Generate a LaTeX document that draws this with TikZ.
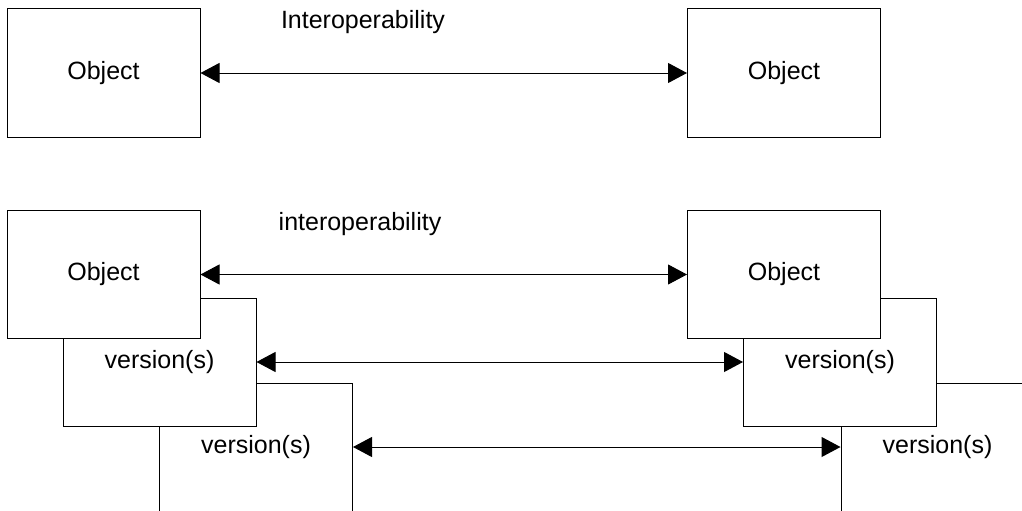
\documentclass[tikz,border=0pt]{standalone}
\usepackage{fontspec}
\setmainfont{Liberation Sans}
\usetikzlibrary{arrows.meta}
\begin{document}
\begin{tikzpicture}[x=1pt,y=-1pt,
  box/.style={draw=black,line width=1pt,fill=white,minimum width=193pt,minimum height=128pt,inner sep=0pt,font=\fontsize{25}{30}\selectfont},
  lbl/.style={inner sep=0pt,font=\fontsize{25}{30}\selectfont},
  link/.style={line width=1pt,{Triangle[length=19pt,width=20pt]}-{Triangle[length=19pt,width=20pt]}}]
\useasboundingbox (0,0) rectangle (1022,511);
\clip (0,0) rectangle (1022,511);
% top row
\node[box] (oa) at (103.5,73) {Object};
\node[box] (ob) at (784,73) {Object};
\node[lbl] (ia) at (363,22) {Interoperability};
\draw[link] (oa.east) -- (ob.west);
% bottom row, left stack
\node[box] (la2) at (256,447) {version(s)};
\node[box] (la1) at (159.5,362) {version(s)};
\node[box] (la0) at (103.5,274.5) {Object};
% right stack
\node[box] (rb2) at (937.5,447) {version(s)};
\node[box] (rb1) at (840,362) {version(s)};
\node[box] (rb0) at (784,274.5) {Object};
\node[lbl] (ib) at (360,224) {interoperability};
\draw[link] (la0.east) -- (rb0.west);
\draw[link] (la1.east) -- (rb1.west);
\draw[link] (la2.east) -- (rb2.west);
\end{tikzpicture}
\end{document}
